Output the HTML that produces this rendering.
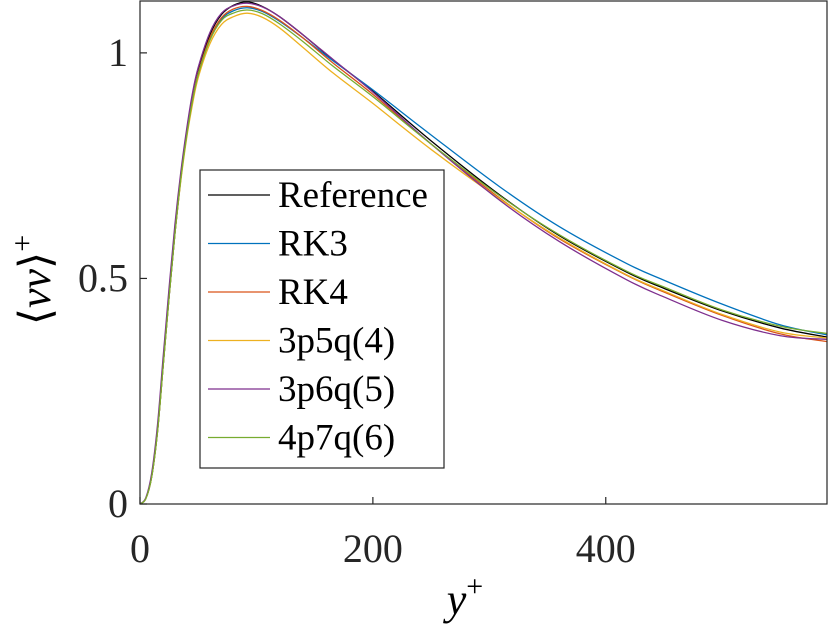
<!DOCTYPE html>
<html><head><meta charset="utf-8"><style>
body{margin:0;background:#fff;width:830px;height:632px;overflow:hidden}
svg{display:block;font-family:"Liberation Serif",serif}
</style></head><body>
<svg id="chart" width="830" height="632">
<g id="plot"></g>
<rect x="140" y="1" width="687" height="503" fill="none" stroke="#262626" stroke-width="1.2"/>
<g id="ticks"></g>
<text x="465" y="614" font-size="44" font-style="italic" text-anchor="middle">y<tspan dy="-18" font-size="30" font-style="normal">+</tspan></text>
<text transform="translate(50,280) rotate(-90)" font-size="44" text-anchor="middle">⟨<tspan font-style="italic">vv</tspan>⟩<tspan dy="-18" font-size="30">+</tspan></text>
<g id="legend">
<rect x="200" y="170" width="244" height="298" fill="#fff" stroke="#262626" stroke-width="1.2"/>
</g>
</svg>
<script>
const yPlus=[0,5,10,15,20,25,30,35,40,45,50,60,70,80,92,105,120,140,166,200,250,309,360,418,450,500,550,590];
const refVals=[0,0.012,0.06,0.16,0.31,0.46,0.6,0.72,0.82,0.9,0.96,1.04,1.085,1.105,1.113,1.103,1.08,1.04,0.984,0.915,0.805,0.685,0.595,0.514,0.478,0.428,0.39,0.37];
const rk3Vals=[0,0.012,0.06,0.16,0.31,0.46,0.6,0.72,0.815,0.895,0.955,1.03,1.075,1.093,1.1,1.092,1.07,1.033,0.982,0.918,0.818,0.703,0.615,0.533,0.496,0.443,0.397,0.375];
const rk4Vals=[0,0.012,0.06,0.16,0.31,0.46,0.6,0.72,0.815,0.895,0.955,1.033,1.078,1.097,1.103,1.094,1.072,1.033,0.977,0.908,0.798,0.678,0.588,0.507,0.47,0.418,0.377,0.36];
const p5Vals=[0,0.012,0.06,0.16,0.31,0.46,0.6,0.715,0.81,0.885,0.945,1.02,1.063,1.08,1.088,1.079,1.055,1.012,0.955,0.888,0.786,0.676,0.59,0.508,0.472,0.42,0.381,0.368];
const p6Vals=[0,0.014,0.068,0.175,0.33,0.48,0.62,0.735,0.83,0.91,0.968,1.045,1.088,1.104,1.11,1.102,1.08,1.04,0.985,0.913,0.798,0.673,0.582,0.497,0.459,0.407,0.373,0.365];
const p7Vals=[0,0.012,0.06,0.16,0.31,0.46,0.6,0.72,0.815,0.893,0.952,1.028,1.072,1.088,1.095,1.087,1.064,1.025,0.97,0.903,0.798,0.683,0.597,0.516,0.481,0.43,0.394,0.378];
const seriesNames=["Reference","RK3","RK4","3p5q(4)","3p6q(5)","4p7q(6)"];
const xTicks=[0,200,400];
const yTicks=[0,0.5,1];
const yTickLabels=["0","0.5","1"];
const allVals=[refVals,rk3Vals,rk4Vals,p5Vals,p6Vals,p7Vals];
const colors=["#000000","#0072BD","#D95319","#EDB120","#7E2F8E","#77AC30"];
const NS="http://www.w3.org/2000/svg";
const X0=140,X1=827,Y0=504,Y1=1,XMAX=590,YMAX=1.115;
const sx=v=>X0+v/XMAX*(X1-X0);
const sy=v=>Y0-v/YMAX*(Y0-Y1);
function mk(t,a){const e=document.createElementNS(NS,t);for(const k in a)e.setAttribute(k,a[k]);return e;}
function smooth(pts){let d="M"+pts[0][0]+","+pts[0][1];
for(let i=0;i<pts.length-1;i++){const p0=pts[Math.max(0,i-1)],p1=pts[i],p2=pts[i+1],p3=pts[Math.min(pts.length-1,i+2)];
const c1=[p1[0]+(p2[0]-p0[0])/6,p1[1]+(p2[1]-p0[1])/6],c2=[p2[0]-(p3[0]-p1[0])/6,p2[1]-(p3[1]-p1[1])/6];
d+=" C"+c1[0].toFixed(2)+","+c1[1].toFixed(2)+" "+c2[0].toFixed(2)+","+c2[1].toFixed(2)+" "+p2[0].toFixed(2)+","+p2[1].toFixed(2);}
return d;}
const plot=document.getElementById("plot");
allVals.forEach((vals,i)=>{
const p=mk("path",{d:smooth(yPlus.map((x,j)=>[sx(x),sy(vals[j])])),fill:"none",stroke:colors[i],"stroke-width":1.3});


plot.appendChild(p);});
const tk=document.getElementById("ticks");
xTicks.forEach(v=>{
const l=mk("line",{x1:sx(v),x2:sx(v),y1:Y0,y2:Y0-7,stroke:"#262626","stroke-width":1.2});


tk.appendChild(l);
const t=mk("text",{x:sx(v),y:562,"font-size":40,"text-anchor":"middle",fill:"#262626"});t.textContent=v;


tk.appendChild(t);});
yTicks.forEach((v,i)=>{
const l=mk("line",{x1:X0,x2:X0+7,y1:sy(v),y2:sy(v),stroke:"#262626","stroke-width":1.2});


tk.appendChild(l);
const t=mk("text",{x:128,y:sy(v)+13,"font-size":40,"text-anchor":"end",fill:"#262626"});t.textContent=yTickLabels[i];


tk.appendChild(t);});
const lg=document.getElementById("legend");
seriesNames.forEach((n,i)=>{
const y=195+i*48.5;
const l=mk("line",{x1:208,x2:270,y1:y,y2:y,stroke:colors[i],"stroke-width":1.3});


lg.appendChild(l);
const t=mk("text",{x:278,y:y+12,"font-size":37});
t.textContent=n;


lg.appendChild(t);});
</script>
</body></html>
